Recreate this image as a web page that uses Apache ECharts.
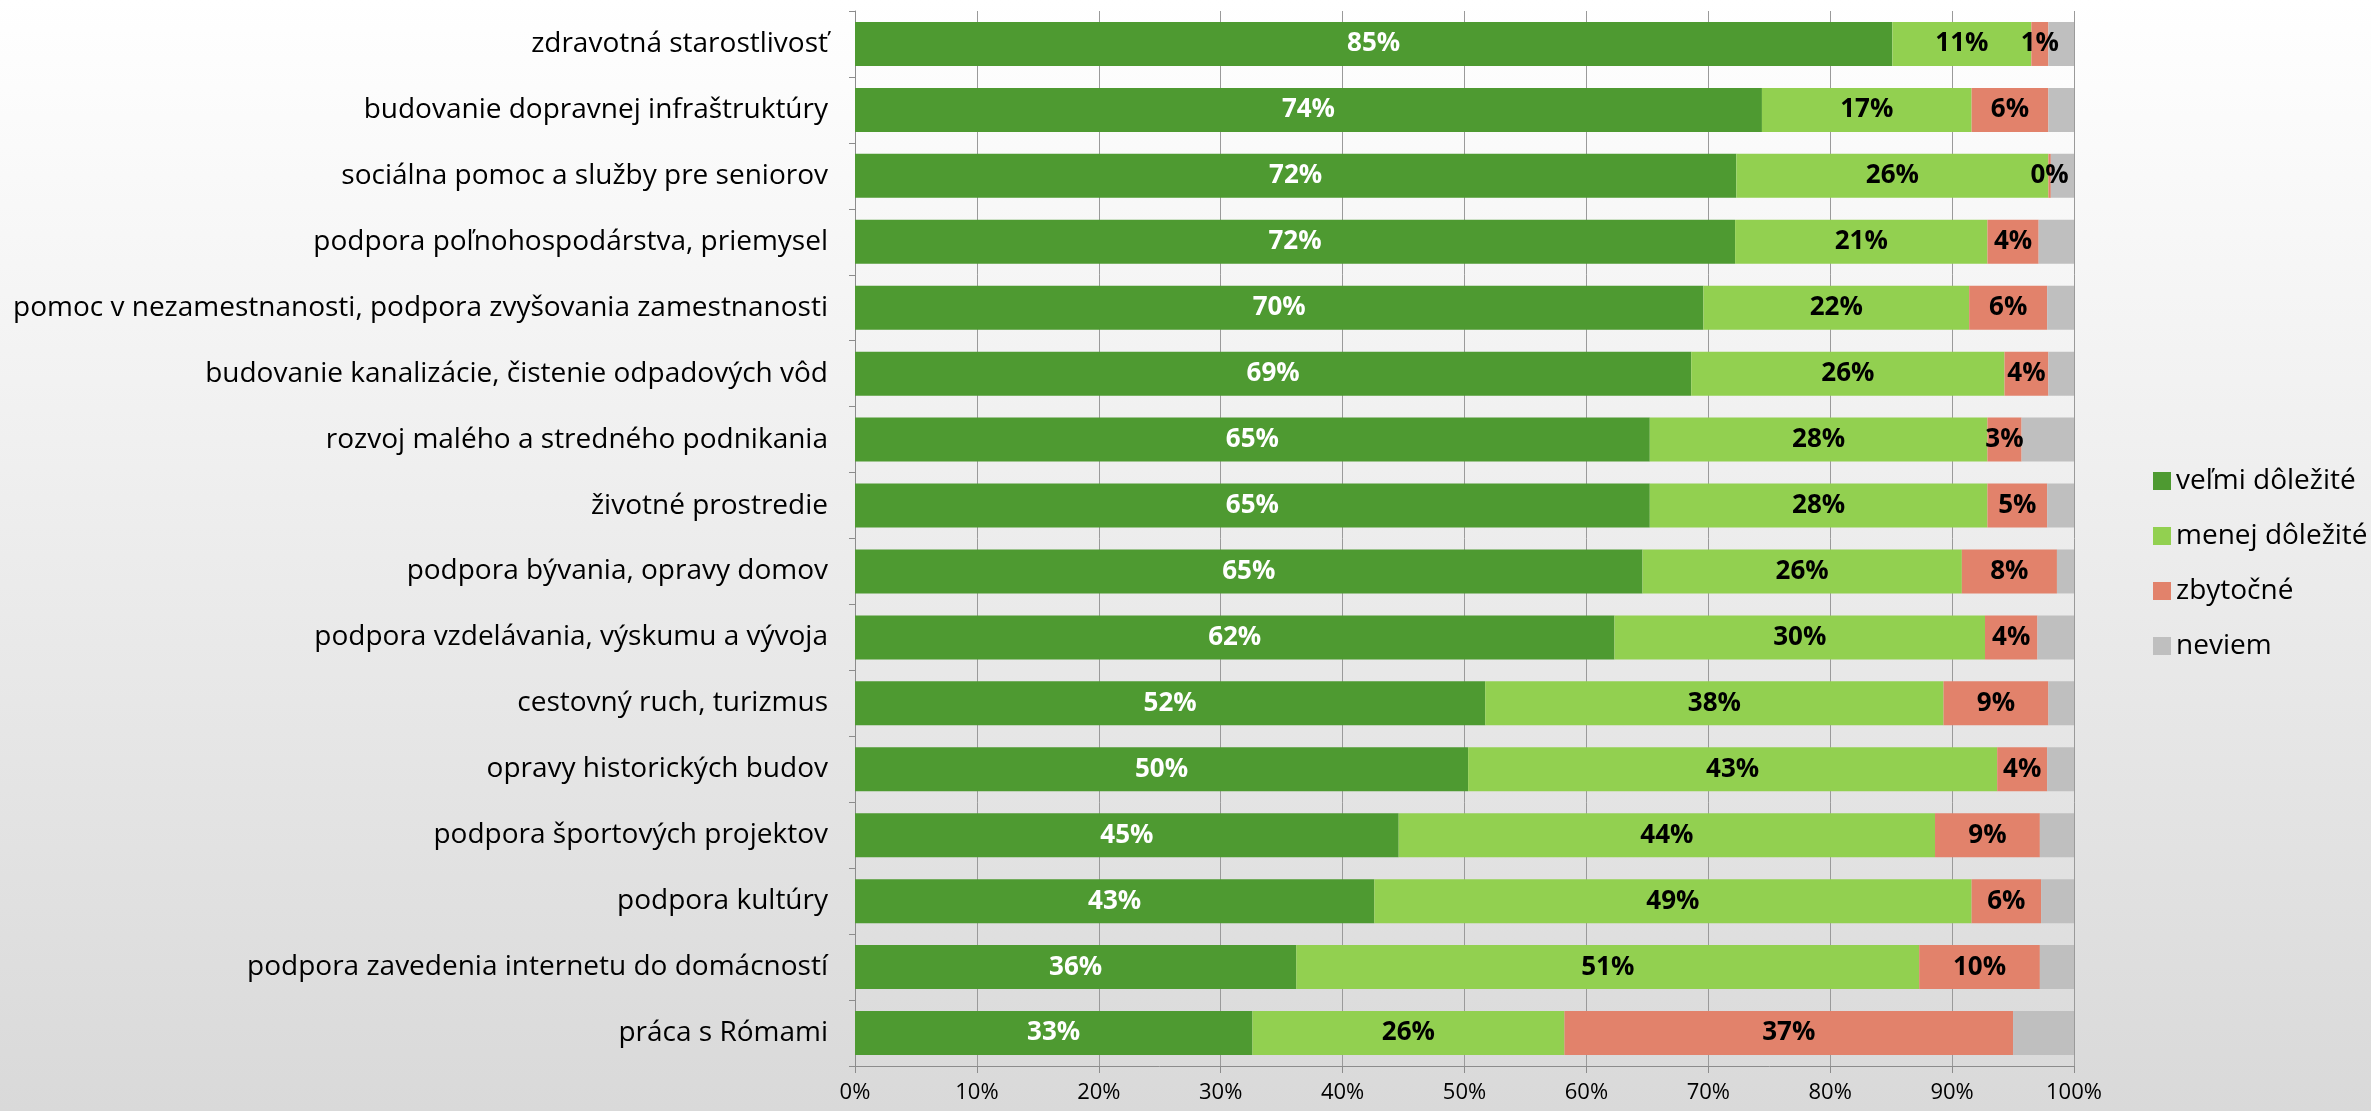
<!DOCTYPE html>
<html>
<head>
<meta charset="utf-8">
<script src="https://cdn.jsdelivr.net/npm/echarts@6/dist/echarts.min.js"></script>
<style>
html,body{margin:0;padding:0;}
#chart{width:2371px;height:1111px;}
</style>
</head>
<body>
<div id="chart"></div>
<script>
const categories = [
  'zdravotná starostlivosť',
  'budovanie dopravnej infraštruktúry',
  'sociálna pomoc a služby pre seniorov',
  'podpora poľnohospodárstva, priemysel',
  'pomoc v nezamestnanosti, podpora zvyšovania zamestnanosti',
  'budovanie kanalizácie, čistenie odpadových vôd',
  'rozvoj malého a stredného podnikania',
  'životné prostredie',
  'podpora bývania, opravy domov',
  'podpora vzdelávania, výskumu a vývoja',
  'cestovný ruch, turizmus',
  'opravy historických budov',
  'podpora športových projektov',
  'podpora kultúry',
  'podpora zavedenia internetu do domácností',
  'práca s Rómami'
];
const velmiDolezite = [85.1, 74.4, 72.3, 72.2, 69.6, 68.6, 65.2, 65.2, 64.6, 62.3, 51.7, 50.3, 44.6, 42.6, 36.2, 32.6];
const menejDolezite = [11.4, 17.2, 25.6, 20.7, 21.8, 25.7, 27.7, 27.7, 26.2, 30.4, 37.6, 43.4, 44.0, 49.0, 51.1, 25.6];
const zbytocne      = [1.4, 6.3, 0.2, 4.2, 6.4, 3.6, 2.8, 4.9, 7.8, 4.3, 8.6, 4.1, 8.6, 5.7, 9.9, 36.8];
const neviem        = [2.1, 2.1, 1.9, 2.9, 2.2, 2.1, 4.3, 2.2, 1.4, 3.0, 2.1, 2.2, 2.8, 2.7, 2.8, 5.0];
const seriesNames = ['veľmi dôležité', 'menej dôležité', 'zbytočné', 'neviem'];
const xTicks = [0, 10, 20, 30, 40, 50, 60, 70, 80, 90, 100];

const FONT = 'Open Sans';
const colors = ['#4E9A31', '#92D050', '#E2826B', '#BFBFBF'];

function mk(name, data, color, labelColor, showLabel) {
  return {
    name: name,
    type: 'bar',
    stack: 'total',
    data: data,
    barCategoryGap: '33.3%',
    itemStyle: { color: color },
    label: {
      show: showLabel,
      position: 'inside',
      color: labelColor,
      fontFamily: FONT,
      fontWeight: 'bold',
      fontSize: 26,
      formatter: p => Math.round(p.value) + '%'
    },
    emphasis: { disabled: true }
  };
}

const chart = echarts.init(document.getElementById('chart'));
chart.setOption({
  animation: false,
  backgroundColor: {
    type: 'linear', x: 0, y: 0, x2: 0, y2: 1,
    colorStops: [{ offset: 0, color: '#ffffff' }, { offset: 1, color: '#d9d9d9' }]
  },
  textStyle: { fontFamily: FONT },
  grid: { left: 855, right: 297, top: 11, bottom: 45, containLabel: false, outerBoundsMode: 'none' },
  legend: {
    orient: 'vertical',
    left: 2148,
    top: 461,
    itemWidth: 18,
    itemHeight: 18,
    itemGap: 25,
    icon: 'rect',
    data: seriesNames,
    textStyle: { fontFamily: FONT, fontSize: 28, color: '#000', lineHeight: 30, padding: [0, 0, 0, 0] }
  },
  xAxis: {
    type: 'value',
    min: xTicks[0],
    max: xTicks[xTicks.length - 1],
    interval: 10,
    axisLine: { show: true, lineStyle: { color: '#8c8c8c', width: 1 } },
    axisTick: { show: true, length: 7, lineStyle: { color: '#8c8c8c' } },
    splitLine: { show: true, lineStyle: { color: '#9a9a9a', width: 1 } },
    axisLabel: { fontFamily: FONT, fontSize: 22, color: '#000', margin: 16, formatter: '{value}%' }
  },
  yAxis: {
    type: 'category',
    inverse: true,
    data: categories,
    axisLine: { show: true, lineStyle: { color: '#8c8c8c', width: 1 } },
    axisTick: { show: true, length: 6, lineStyle: { color: '#8c8c8c' } },
    axisLabel: { fontFamily: FONT, fontSize: 28, color: '#000', margin: 27 }
  },
  series: [
    mk(seriesNames[0], velmiDolezite, colors[0], '#ffffff', true),
    mk(seriesNames[1], menejDolezite, colors[1], '#000000', true),
    mk(seriesNames[2], zbytocne, colors[2], '#000000', true),
    mk(seriesNames[3], neviem, colors[3], '#000000', false)
  ]
});
</script>
</body>
</html>
